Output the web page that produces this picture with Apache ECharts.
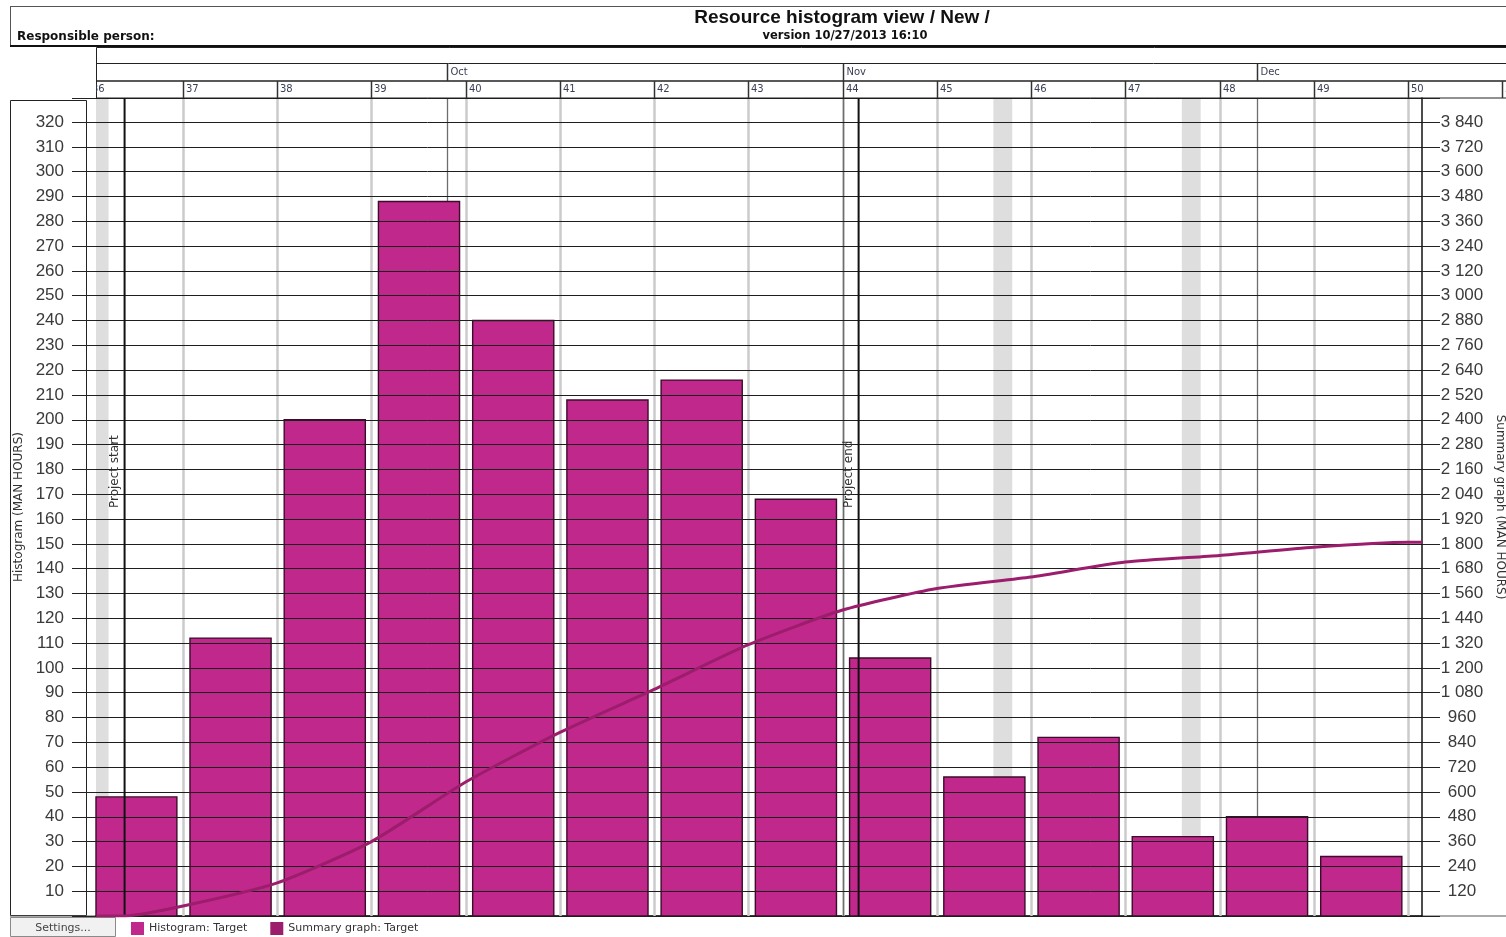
<!DOCTYPE html>
<html>
<head>
<meta charset="utf-8">
<script src="https://cdn.jsdelivr.net/npm/echarts@6/dist/echarts.min.js"></script>
<style>
  html, body { margin: 0; padding: 0; background: #fff; }
  #chart { width: 1506px; height: 937px; }
</style>
</head>
<body>
<div id="chart"></div>
<script>
// Planned workload per calendar week (man hours)
const weeks = [36, 37, 38, 39, 40, 41, 42, 43, 44, 45, 46, 47, 48, 49];
const hours = [48, 112, 200, 288, 240, 208, 216, 168, 104, 56, 72, 32, 40, 24];

// Running total of planned hours (summary graph), positioned in weeks
const summaryWeeks = [36.08, 36.38, 37, 38, 39, 40, 41, 42, 43, 44, 45, 46, 47, 48, 49, 50, 50.15];
const summaryHours = [0, 0, 48, 160, 360, 648, 888, 1096, 1312, 1480, 1584, 1640, 1712, 1744, 1784, 1808, 1808];

// Timescale header
const headerWeeks = [36, 37, 38, 39, 40, 41, 42, 43, 44, 45, 46, 47, 48, 49, 50, 51];
const monthNames = ['Oct', 'Nov', 'Dec'];
const monthStarts = [39.8, 44.0, 48.4];

// Non-working days shaded in the chart body, [from, to] in weeks
const offDayFrom = [36.0, 45.6, 47.6];
const offDayTo = [36.21, 45.8, 47.8];

// Milestones
const milestoneNames = ['Project start', 'Project end'];
const milestoneWeeks = [36.38, 44.17];

// Axis ranges
const X_MIN = 36.0767, X_MAX = 50.149, X_HEADER_MAX = 51.040;
const Y_MAX = 329.7, Y_STEP = 10, RATIO = 12;

const FONT = 'Liberation Sans, Arial, sans-serif';
const UI_FONT = 'DejaVu Sans, Verdana, sans-serif';
const BAR_COLOR = '#C1288B';
const SUM_COLOR = '#9B1D6C';
const BAR_START = 0.074, BAR_END = 0.935;

const chart = echarts.init(document.getElementById('chart'), null, { renderer: 'canvas' });

function thousands(v) {
  return String(v).replace(/\B(?=(\d{3})+(?!\d))/g, ' ');
}

function renderBar(params, api) {
  const w = api.value(0), v = api.value(1);
  const p0 = api.coord([w + BAR_START, v]);
  const p1 = api.coord([w + BAR_END, 0]);
  const cs = params.coordSys;
  const x0 = Math.max(p0[0], cs.x);
  return {
    type: 'rect',
    shape: { x: x0, y: p0[1], width: p1[0] - x0, height: p1[1] - p0[1] },
    style: { fill: BAR_COLOR, stroke: '#3d0b2b', lineWidth: 1.4 }
  };
}

function renderOffDay(params, api) {
  const cs = params.coordSys;
  const a = api.coord([api.value(0), 0]);
  const b = api.coord([api.value(1), 0]);
  const x0 = Math.max(a[0], cs.x);
  return {
    type: 'rect',
    shape: { x: x0, y: cs.y, width: b[0] - x0, height: cs.height },
    style: { fill: '#dedede' }
  };
}

function renderWeekLine(params, api) {
  const cs = params.coordSys;
  const x = Math.round(api.coord([api.value(0), 0])[0]) + 0.5;
  const isMonth = api.value(1) === 1;
  return {
    type: 'line',
    shape: { x1: x, y1: cs.y, x2: x, y2: cs.y + cs.height },
    style: { stroke: isMonth ? '#6e6e6e' : '#cbcbcb', lineWidth: isMonth ? 1.3 : 2.5 }
  };
}

function renderMilestone(params, api) {
  const cs = params.coordSys;
  const x = api.coord([api.value(0), 0])[0];
  const name = milestoneNames[params.dataIndex];
  return {
    type: 'group',
    children: [
      {
        type: 'line',
        shape: { x1: x, y1: cs.y, x2: x, y2: cs.y + cs.height },
        style: { stroke: '#111', lineWidth: 2 }
      },
      {
        type: 'text',
        x: x - 4,
        y: 508,
        rotation: Math.PI / 2,
        style: { text: name, x: 0, y: 0, align: 'left', verticalAlign: 'bottom',
                 fill: '#333', font: '12px ' + UI_FONT }
      }
    ]
  };
}

function renderHeaderWeek(params, api) {
  const cs = params.coordSys;
  const w = api.value(0);
  const x = Math.round(api.coord([w, 0])[0]) + 0.5;
  return {
    type: 'group',
    children: [
      { type: 'line', shape: { x1: x, y1: cs.y + 34, x2: x, y2: cs.y + cs.height },
        style: { stroke: '#333', lineWidth: 1.5 } },
      { type: 'text', x: x + 2.5, y: cs.y + 42.5,
        style: { text: String(w), align: 'left', verticalAlign: 'middle',
                 fill: '#3a3f55', font: '10px ' + UI_FONT } }
    ]
  };
}

function renderHeaderMonth(params, api) {
  const cs = params.coordSys;
  const x = Math.round(api.coord([api.value(0), 0])[0]) + 0.5;
  return {
    type: 'group',
    children: [
      { type: 'line', shape: { x1: x, y1: cs.y + 16.5, x2: x, y2: cs.y + 34 },
        style: { stroke: '#333', lineWidth: 1.5 } },
      { type: 'text', x: x + 3, y: cs.y + 25.5,
        style: { text: monthNames[params.dataIndex], align: 'left', verticalAlign: 'middle',
                 fill: '#3a3f55', font: '10px ' + UI_FONT } }
    ]
  };
}

const gridLineData = headerWeeks.filter(w => w > 36 && w <= 50).map(w => [w, 0])
  .concat(monthStarts.map(m => [m, 1]));

const option = {
  animation: false,
  backgroundColor: '#fff',
  textStyle: { fontFamily: FONT },
  grid: [
    { left: 96, right: 84, top: 98, bottom: 21, containLabel: false, outerBoundsMode: 'none' },
    { left: 96, right: 0, top: 47, height: 51, containLabel: false, outerBoundsMode: 'none' }
  ],
  xAxis: [
    { type: 'value', gridIndex: 0, min: X_MIN, max: X_MAX,
      axisLine: { show: true, onZero: false, lineStyle: { color: '#111', width: 1.5 } },
      axisTick: { show: false }, axisLabel: { show: false }, splitLine: { show: false } },
    { type: 'value', gridIndex: 1, min: X_MIN, max: X_HEADER_MAX, show: false }
  ],
  yAxis: [
    { type: 'value', gridIndex: 0, min: 0, max: Y_MAX, interval: Y_STEP, position: 'left', z: 3,
      axisLine: { show: false },
      axisTick: { show: true, length: 24, lineStyle: { color: '#222', width: 1 } },
      axisLabel: { margin: 32, fontSize: 17, color: '#3a3a3a', fontFamily: FONT,
        formatter: v => (v > 0 && v <= 320 && v % Y_STEP === 0) ? String(v) : '' },
      splitLine: { show: true, lineStyle: { color: '#1e1e1e', width: 1 } },
      name: 'Histogram (MAN HOURS)', nameLocation: 'middle', nameGap: 69, nameRotate: 90,
      nameTextStyle: { fontSize: 12, color: '#333', fontFamily: UI_FONT } },
    { type: 'value', gridIndex: 0, min: 0, max: Y_MAX * RATIO, interval: Y_STEP * RATIO,
      position: 'right', z: 3,
      axisLine: { show: true, onZero: false, lineStyle: { color: '#111', width: 1.5 } },
      axisTick: { show: true, length: 18, lineStyle: { color: '#222', width: 1 } },
      axisLabel: { margin: 40, align: 'center', fontSize: 17, color: '#3a3a3a', fontFamily: FONT,
        formatter: v => (v > 0 && v <= 3840) ? thousands(v) : '' },
      splitLine: { show: false },
      name: 'Summary graph (MAN HOURS)', nameLocation: 'middle', nameGap: 68, nameRotate: -90,
      nameTextStyle: { fontSize: 12, color: '#333', fontFamily: UI_FONT } },
    { type: 'value', gridIndex: 1, min: 0, max: 3, show: false }
  ],
  legend: {
    left: 131, top: 922, padding: 0, itemWidth: 13, itemHeight: 13, itemGap: 23, icon: 'rect',
    textStyle: { fontSize: 11, color: '#333', fontFamily: UI_FONT },
    data: ['Histogram: Target', 'Summary graph: Target']
  },
  graphic: [
    // report title block
    { type: 'line', shape: { x1: 10, y1: 6.5, x2: 1506, y2: 6.5 }, style: { stroke: '#555', lineWidth: 1 } },
    { type: 'line', shape: { x1: 10.5, y1: 6.5, x2: 10.5, y2: 46 }, style: { stroke: '#555', lineWidth: 1 } },
    { type: 'line', shape: { x1: 10, y1: 46, x2: 1506, y2: 46 }, style: { stroke: '#111', lineWidth: 2 } },
    { type: 'text', x: 842, y: 18, style: { text: 'Resource histogram view / New /', align: 'center',
        verticalAlign: 'middle', font: 'bold 19px ' + FONT, fill: '#111' } },
    { type: 'text', x: 845, y: 36.5, style: { text: 'version 10/27/2013 16:10', align: 'center',
        verticalAlign: 'middle', font: 'bold 11.5px ' + UI_FONT, fill: '#111' } },
    { type: 'text', x: 17, y: 36.5, style: { text: 'Responsible person:', align: 'left',
        verticalAlign: 'middle', font: 'bold 12px ' + UI_FONT, fill: '#111' } },
    // timescale header frame
    { type: 'rect', shape: { x: 96.5, y: 47.5, width: 1412, height: 50.5 },
      style: { fill: 'none', stroke: '#222', lineWidth: 1 } },
    { type: 'line', shape: { x1: 96, y1: 63.5, x2: 1506, y2: 63.5 }, style: { stroke: '#222', lineWidth: 1 } },
    { type: 'line', shape: { x1: 96, y1: 81, x2: 1506, y2: 81 }, style: { stroke: '#222', lineWidth: 1.5 } },
    // left axis box
    { type: 'rect', shape: { x: 10.5, y: 100.5, width: 76, height: 815 },
      style: { fill: 'none', stroke: '#222', lineWidth: 1 } },
    // bottom rule under the chart body
    { type: 'line', shape: { x1: 10, y1: 916, x2: 1506, y2: 916 }, style: { stroke: '#555', lineWidth: 1 } },
    // settings button
    { type: 'rect', shape: { x: 10.5, y: 917.5, width: 105, height: 19 },
      style: { fill: '#f1f1f1', stroke: '#8a8a8a', lineWidth: 1 } },
    { type: 'text', x: 63, y: 928, style: { text: 'Settings...', align: 'center', verticalAlign: 'middle',
        font: '11px ' + UI_FONT, fill: '#444' } }
  ],
  series: [
    { type: 'custom', name: 'offDays', xAxisIndex: 0, yAxisIndex: 0, z: 1, silent: true,
      renderItem: renderOffDay, data: offDayFrom.map((f, i) => [f, offDayTo[i]]), encode: { x: [0, 1] } },
    { type: 'custom', name: 'weekLines', xAxisIndex: 0, yAxisIndex: 0, z: 1, silent: true,
      renderItem: renderWeekLine, data: gridLineData, encode: { x: 0 } },
    { type: 'custom', name: 'Histogram: Target', xAxisIndex: 0, yAxisIndex: 0, z: 2,
      itemStyle: { color: BAR_COLOR },
      renderItem: renderBar, data: weeks.map((w, i) => [w, hours[i]]), encode: { x: 0, y: 1 } },
    { type: 'custom', name: 'milestones', xAxisIndex: 0, yAxisIndex: 0, z: 4, silent: true,
      renderItem: renderMilestone, data: milestoneWeeks.map(w => [w, 0]), encode: { x: 0 } },
    { type: 'line', name: 'Summary graph: Target', xAxisIndex: 0, yAxisIndex: 1, z: 5,
      showSymbol: false, smooth: 0.2,
      itemStyle: { color: SUM_COLOR },
      lineStyle: { color: SUM_COLOR, width: 3 },
      data: summaryWeeks.map((w, i) => [w, summaryHours[i]]) },
    { type: 'custom', name: 'headerWeeks', xAxisIndex: 1, yAxisIndex: 2, clip: true, silent: true,
      renderItem: renderHeaderWeek, data: headerWeeks.map(w => [w, 0]), encode: { x: 0 } },
    { type: 'custom', name: 'headerMonths', xAxisIndex: 1, yAxisIndex: 2, clip: true, silent: true,
      renderItem: renderHeaderMonth, data: monthStarts.map(m => [m, 0]), encode: { x: 0 } }
  ]
};

chart.setOption(option);
</script>
</body>
</html>
